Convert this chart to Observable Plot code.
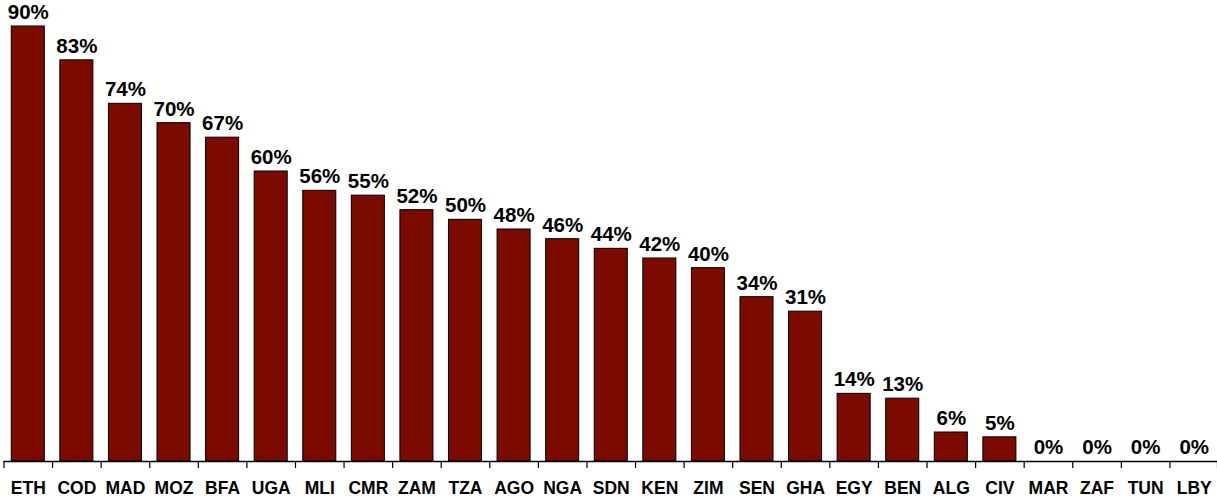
<!DOCTYPE html>
<html>
<head>
<meta charset="utf-8">
<script src="https://cdn.jsdelivr.net/npm/d3@7"></script>
<script src="https://cdn.jsdelivr.net/npm/@observablehq/plot@0.6"></script>
<style>
  html, body { margin: 0; padding: 0; background: #fff; }
  svg { display: block; }
</style>
</head>
<body>
<div id="chart"></div>
<script>
const countries = ["ETH","COD","MAD","MOZ","BFA","UGA","MLI","CMR","ZAM","TZA","AGO","NGA","SDN","KEN","ZIM","SEN","GHA","EGY","BEN","ALG","CIV","MAR","ZAF","TUN","LBY"];
const shares = [90,83,74,70,67,60,56,55,52,50,48,46,44,42,40,34,31,14,13,6,5,0,0,0,0];

const data = countries.map((c, i) => ({country: c, value: shares[i]}));

const W = 1217, H = 498;
const mL = 3.5, mR = -1, mT = 26, mB = 37;
const step = (W - mL - mR) / countries.length;
const font = "'Liberation Sans', Arial, Helvetica, sans-serif";

const chart = Plot.plot({
  width: W,
  height: H,
  marginLeft: mL,
  marginRight: mR,
  marginTop: mT,
  marginBottom: mB,
  style: {fontFamily: font, background: "#fff", overflow: "visible"},
  x: {domain: countries, paddingInner: 0.32, paddingOuter: 0.16, round: false, label: null},
  y: {domain: [0, 90], axis: null},
  marks: [
    Plot.barY(data, {x: "country", y: "value", fill: "#7b0a00", stroke: "#000", strokeWidth: 1}),
    Plot.ruleY([0], {stroke: "#000", strokeWidth: 1.5}),
    Plot.ruleX(countries, {x: d => d, y1: 0, y2: 0, dx: -step / 2, insetBottom: -7, stroke: "#000", strokeWidth: 1.2}),
    Plot.ruleX(countries.slice(-1), {x: d => d, y1: 0, y2: 0, dx: step / 2 - 1, insetBottom: -7, stroke: "#000", strokeWidth: 1.2}),
    Plot.text(data, {x: "country", y: "value", text: d => d.value + "%", dy: -14, fontSize: 20.5, fontWeight: "bold", fill: "#000"}),
    Plot.axisX({tickSize: 0, tickPadding: 20, fontSize: 17.5, fontWeight: "bold", fill: "#000", label: null})
  ]
});

document.getElementById("chart").appendChild(chart);
</script>
</body>
</html>
